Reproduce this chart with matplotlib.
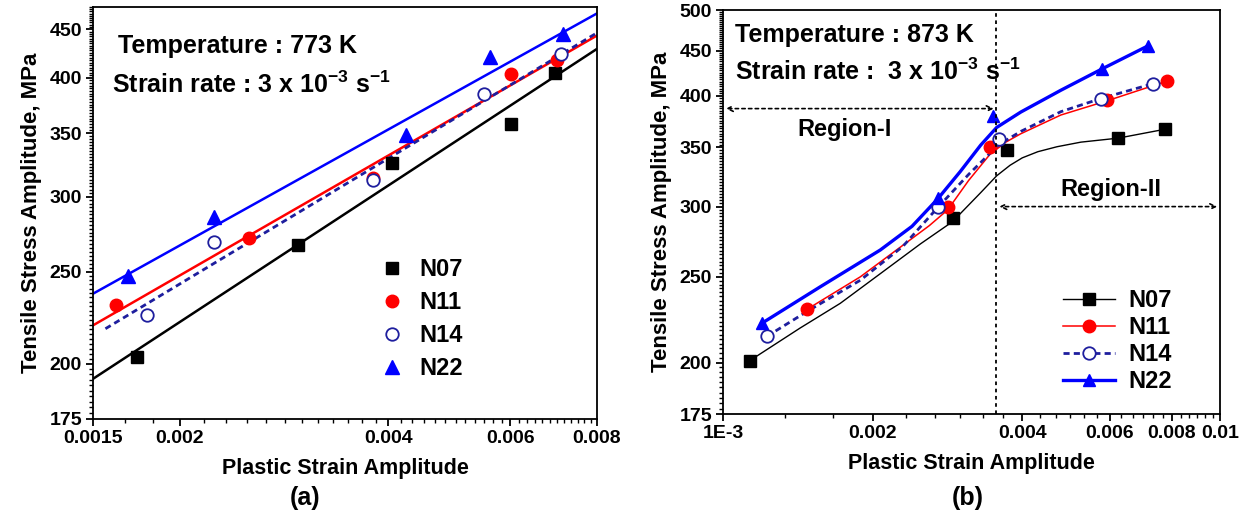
import numpy as np
import matplotlib.pyplot as plt
from matplotlib.ticker import FixedLocator, NullFormatter

plt.rcParams['font.family'] = ['Liberation Sans', 'DejaVu Sans']
plt.rcParams['font.weight'] = 'bold'
plt.rcParams['mathtext.fontset'] = 'custom'
plt.rcParams['mathtext.rm'] = 'Liberation Sans:bold'
plt.rcParams['mathtext.bf'] = 'Liberation Sans:bold'
plt.rcParams['mathtext.default'] = 'bf'

# ---- (a) 773 K : measured points ----
a_n07_x = [0.001734, 0.00296, 0.004044, 0.006003, 0.006966]
a_n07_y = [203.6, 266.7, 325.8, 357.6, 404.8]
a_n11_x = [0.001619, 0.002517, 0.003796, 0.006019, 0.007013]
a_n11_y = [230.5, 271.1, 313.6, 403.9, 418.2]
a_n14_x = [0.001792, 0.002244, 0.0038, 0.005489, 0.007105]
a_n14_y = [225.3, 268.9, 312.4, 384.7, 424.0]
a_n22_x = [0.001684, 0.002244, 0.004246, 0.005606, 0.007152]
a_n22_y = [247.3, 285.7, 348.5, 420.9, 444.4]

# (a) fitted lines, end points
a_fit07_x = [0.0015, 0.008]
a_fit07_y = [192.9, 429.2]
a_fit11_x = [0.0015, 0.008]
a_fit11_y = [219.6, 443.3]
a_fit14_x = [0.001563, 0.008]
a_fit14_y = [217.8, 446.2]
a_fit22_x = [0.0015, 0.008]
a_fit22_y = [237.1, 467.7]

# ---- (b) 873 K : measured points ----
b_n07_x = [0.001133, 0.002896, 0.003722, 0.006239, 0.007755]
b_n07_y = [201.1, 291.1, 347.7, 358.3, 366.7]
b_n11_x = [0.001475, 0.002832, 0.003442, 0.005923, 0.007828]
b_n11_y = [229.7, 299.3, 350.7, 395.6, 415.7]
b_n14_x = [0.001225, 0.002713, 0.003586, 0.00576, 0.007335]
b_n14_y = [214.1, 299.3, 357.4, 397.2, 412.9]
b_n22_x = [0.001198, 0.002703, 0.0035, 0.005792, 0.007172]
b_n22_y = [221.6, 307.1, 379.6, 429.1, 455.7]

# (b) smooth curves
b_c07_x = [0.001133, 0.001429, 0.001721, 0.002072, 0.002496, 0.002896, 0.003298,
           0.003553, 0.00378, 0.0040, 0.0043, 0.0047, 0.005249, 0.006239, 0.007754]
b_c07_y = [201.1, 218.8, 233.3, 252.0, 272.3, 288.5, 311.0,
           325.0, 334.0, 340.5, 346.0, 350.5, 354.7, 358.4, 366.8]
b_c11_x = [0.001475, 0.001888, 0.002274, 0.002600, 0.002832, 0.003119, 0.003442,
           0.003700, 0.003972, 0.004783, 0.005923, 0.007827]
b_c11_y = [229.7, 249.9, 270.0, 285.5, 297.5, 321.0, 343.5,
           354.5, 362.5, 380.6, 394.9, 415.7]
b_c14_x = [0.001225, 0.001475, 0.001888, 0.002300, 0.002703, 0.003119, 0.003586,
           0.003972, 0.004783, 0.00576, 0.007334]
b_c14_y = [214.1, 228.4, 247.7, 270.5, 299.2, 326.1, 352.3, 364.7, 383.9, 397.3, 412.9]
b_c22_x = [0.001198, 0.001568, 0.002072, 0.002400, 0.002703, 0.003000, 0.003300,
           0.003553, 0.003972, 0.004783, 0.005792, 0.007172]
b_c22_y = [221.6, 243.5, 268.0, 285.0, 306.0, 328.5, 352.0,
           368.5, 383.5, 405.9, 429.1, 455.7]

black = '#000000'
red = '#ff0000'
navy = '#1e1e9e'
blue = '#0000ff'

fig = plt.figure(figsize=(12.49, 5.19), dpi=100)
ax1 = fig.add_axes([0.0745, 0.1927, 0.4035, 0.7938])
ax2 = fig.add_axes([0.5789, 0.2023, 0.3979, 0.7784])


def style_axis(ax, xlim, ylim, xt, xtl, xminor, yt, yminor):
    ax.set_xscale('log')
    ax.set_yscale('log')
    ax.set_xlim(*xlim)
    ax.set_ylim(*ylim)
    ax.xaxis.set_major_locator(FixedLocator(xt))
    ax.set_xticklabels(xtl)
    ax.xaxis.set_minor_locator(FixedLocator(xminor))
    ax.xaxis.set_minor_formatter(NullFormatter())
    ax.yaxis.set_major_locator(FixedLocator(yt))
    ax.set_yticklabels([str(v) for v in yt])
    ax.yaxis.set_minor_locator(FixedLocator(yminor))
    ax.yaxis.set_minor_formatter(NullFormatter())
    ax.tick_params(which='major', direction='out', length=5, width=1.3,
                   labelsize=14, pad=3)
    ax.tick_params(which='minor', direction='out', length=3, width=1.0)
    for s in ax.spines.values():
        s.set_linewidth(1.3)
    ax.set_xlabel('Plastic Strain Amplitude', fontsize=15.5, fontweight='bold', labelpad=8)
    ax.set_ylabel('Tensile Stress Amplitude, MPa', fontsize=16, fontweight='bold', labelpad=5)


# ---------------- panel (a) ----------------
ax1.plot(a_fit07_x, a_fit07_y, color=black, lw=1.8)
ax1.plot(a_fit11_x, a_fit11_y, color=red, lw=1.8)
ax1.plot(a_fit14_x, a_fit14_y, color=navy, lw=2.0, dashes=(2.2, 1.5))
ax1.plot(a_fit22_x, a_fit22_y, color=blue, lw=1.8)

h07 = ax1.plot(a_n07_x, a_n07_y, 's', color=black, ms=8, label='N07')[0]
h11 = ax1.plot(a_n11_x, a_n11_y, 'o', color=red, ms=9, label='N11')[0]
h14 = ax1.plot(a_n14_x, a_n14_y, 'o', mfc='white', mec=navy, mew=1.3, ms=9, label='N14')[0]
h22 = ax1.plot(a_n22_x, a_n22_y, '^', color=blue, ms=10, label='N22')[0]

style_axis(ax1, (0.0015, 0.008), (175, 475),
           [0.0015, 0.002, 0.004, 0.006, 0.008],
           ['0.0015', '0.002', '0.004', '0.006', '0.008'],
           np.arange(0.0015, 0.00801, 0.0005 / 3),
           [175, 200, 250, 300, 350, 400, 450],
           np.arange(175, 476, 2.5))

ax1.text(0.05, 0.905, 'Temperature : 773 K', transform=ax1.transAxes,
         fontsize=18, fontweight='bold', va='center')
ax1.text(0.037, 0.812, 'Strain rate : 3 x 10$^{-3}$ s$^{-1}$', transform=ax1.transAxes,
         fontsize=18, fontweight='bold', va='center')
ax1.legend(handles=[h07, h11, h14, h22], loc='upper left',
           bbox_to_anchor=(0.565, 0.39), frameon=False, fontsize=17,
           handletextpad=0.55, labelspacing=0.42, handlelength=1.2,
           borderaxespad=0, borderpad=0)

# ---------------- panel (b) ----------------
ax2.plot(b_c07_x, b_c07_y, color=black, lw=1.0)
ax2.plot(b_c11_x, b_c11_y, color=red, lw=1.1)
ax2.plot(b_c14_x, b_c14_y, color=navy, lw=2.0, dashes=(2.2, 1.5))
ax2.plot(b_c22_x, b_c22_y, color=blue, lw=2.4)

ax2.plot(b_n07_x, b_n07_y, 's', color=black, ms=8)
ax2.plot(b_n11_x, b_n11_y, 'o', color=red, ms=9)
ax2.plot(b_n14_x, b_n14_y, 'o', mfc='white', mec=navy, mew=1.3, ms=9)
ax2.plot(b_n22_x, b_n22_y, '^', color=blue, ms=8)

g07 = ax2.plot([], [], 's-', color=black, lw=1.0, ms=8, label='N07')[0]
g11 = ax2.plot([], [], 'o-', color=red, lw=1.1, ms=9, label='N11')[0]
g14 = ax2.plot([], [], 'o', ls=(0, (2.2, 1.5)), color=navy, lw=2.0, mfc='white',
               mec=navy, mew=1.3, ms=9, label='N14')[0]
g22 = ax2.plot([], [], '^-', color=blue, lw=2.4, ms=8, label='N22')[0]

style_axis(ax2, (0.001, 0.01), (175, 500),
           [0.001, 0.002, 0.004, 0.006, 0.008, 0.01],
           ['1E-3', '0.002', '0.004', '0.006', '0.008', '0.01'],
           np.arange(0.001, 0.01001, 0.001 / 3),
           [175, 200, 250, 300, 350, 400, 450, 500],
           np.arange(175, 501, 2.5))

region_x = 0.00355
ax2.axvline(region_x, color=black, lw=1.3, ls=(0, (2, 2)))
ax2.annotate('', xy=(0.001, 387), xytext=(region_x, 387),
             arrowprops=dict(arrowstyle='<->', ls=(0, (2, 2)), lw=1.2, color=black))
ax2.annotate('', xy=(region_x, 300), xytext=(0.01, 300),
             arrowprops=dict(arrowstyle='<->', ls=(0, (2, 2)), lw=1.2, color=black))
ax2.text(0.00176, 367, 'Region-I', ha='center', va='center', fontsize=17, fontweight='bold')
ax2.text(0.00603, 314, 'Region-II', ha='center', va='center', fontsize=17, fontweight='bold')

ax2.text(0.025, 0.938, 'Temperature : 873 K', transform=ax2.transAxes,
         fontsize=18, fontweight='bold', va='center')
ax2.text(0.025, 0.846, 'Strain rate :  3 x 10$^{-3}$ s$^{-1}$', transform=ax2.transAxes,
         fontsize=18, fontweight='bold', va='center')
ax2.legend(handles=[g07, g11, g14, g22], loc='upper left',
           bbox_to_anchor=(0.684, 0.31), frameon=False, fontsize=17,
           handletextpad=0.55, labelspacing=0.17, handlelength=2.2,
           borderaxespad=0, borderpad=0)

fig.text(0.2445, 0.04, '(a)', ha='center', va='center', fontsize=18, fontweight='bold')
fig.text(0.775, 0.04, '(b)', ha='center', va='center', fontsize=18, fontweight='bold')

fig.savefig('out.png', dpi=100)
